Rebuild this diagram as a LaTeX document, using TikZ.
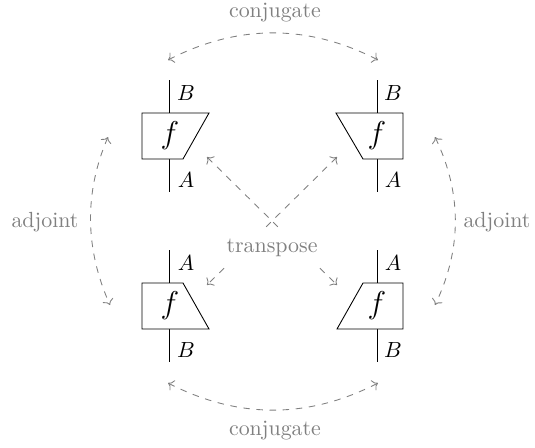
\documentclass[tikz,border=0pt]{standalone}
\usetikzlibrary{arrows.meta}
\begin{document}
\begin{tikzpicture}[x=0.4566pt,y=-0.4566pt,
  wire/.style={draw=black,line width=0.4pt},
  boxf/.style={draw=black,fill=white,line width=0.4pt},
  lbl/.style={inner sep=0pt},
  flbl/.style={inner sep=0pt,font=\fontsize{13.3}{16}\selectfont},
  rel/.style={draw=gray,dashed,<->,line width=0.4pt},
  rellbl/.style={text=gray,inner sep=2pt}]
\useasboundingbox (0,0) rectangle (535,447);
% top-left box
\coordinate (tlT) at (169.5,80); \coordinate (tlB) at (169.5,192);
\draw[wire] (tlT) -- (tlB);
\draw[boxf] (142,113) -- (209,113) -- (183,159) -- (142,159) -- cycle;
\node[flbl] (tlf) at (170,136) {$f$};
\node[lbl] (tlb) at (186,93) {$B$};
\node[lbl] (tla) at (186,180) {$A$};
% top-right box
\coordinate (trT) at (377,80); \coordinate (trB) at (377,192);
\draw[wire] (trT) -- (trB);
\draw[boxf] (336,113) -- (403,113) -- (403,159) -- (363,159) -- cycle;
\node[flbl] (trf) at (377,136) {$f$};
\node[lbl] (trb) at (393,93) {$B$};
\node[lbl] (tra) at (393,180) {$A$};
% bottom-left box
\coordinate (blT) at (169.5,250); \coordinate (blB) at (169.5,362);
\draw[wire] (blT) -- (blB);
\draw[boxf] (142,283) -- (183,283) -- (209,329) -- (142,329) -- cycle;
\node[flbl] (blf) at (170,306) {$f$};
\node[lbl] (bla) at (186,263) {$A$};
\node[lbl] (blb) at (186,350) {$B$};
% bottom-right box
\coordinate (brT) at (377,250); \coordinate (brB) at (377,362);
\draw[wire] (brT) -- (brB);
\draw[boxf] (363,283) -- (403,283) -- (403,329) -- (337,329) -- cycle;
\node[flbl] (brf) at (377,306) {$f$};
\node[lbl] (bra) at (393,263) {$A$};
\node[lbl] (brb) at (393,350) {$B$};
% conjugate arrows
\coordinate (c1) at (168,60); \coordinate (c2) at (378,60);
\draw[rel] (c1) .. controls (238,24) and (308,24) .. (c2);
\node[rellbl] (conjT) at (275,13) {conjugate};
\coordinate (c3) at (168,383); \coordinate (c4) at (378,383);
\draw[rel] (c3) .. controls (238,419) and (308,419) .. (c4);
\node[rellbl] (conjB) at (275,431) {conjugate};
% adjoint arrows
\coordinate (a1) at (108,137); \coordinate (a2) at (110,305);
\draw[rel] (a1) .. controls (84,193) and (85,249) .. (a2);
\node[rellbl] (adjL) at (45,222) {adjoint};
\coordinate (a3) at (435,137); \coordinate (a4) at (435,305);
\draw[rel] (a3) .. controls (462,193) and (462,249) .. (a4);
\node[rellbl] (adjR) at (497,222) {adjoint};
% transpose arrows
\coordinate (t1) at (207,157); \coordinate (t2) at (337,157);
\coordinate (t3) at (207,285); \coordinate (t4) at (337,285);
\draw[rel] (t1) -- (t4);
\draw[rel] (t2) -- (t3);
\node[rellbl,fill=white,inner ysep=4pt] (tr) at (272,248) {transpose};
\end{tikzpicture}
\end{document}
